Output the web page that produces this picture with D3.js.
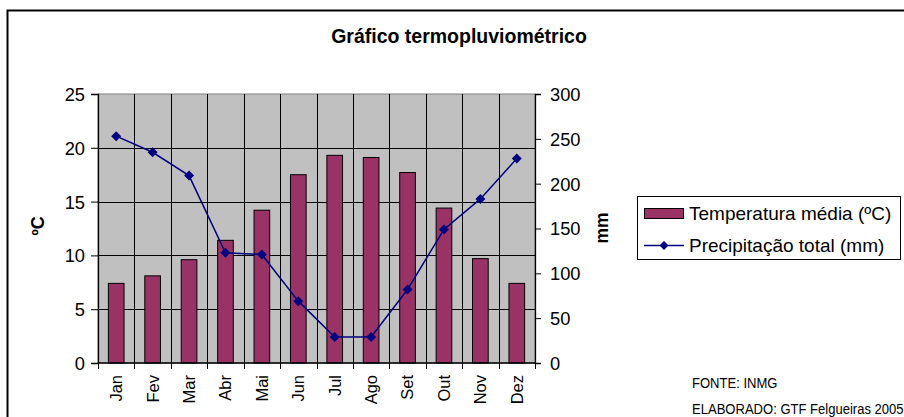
<!DOCTYPE html>
<html>
<head>
<meta charset="utf-8">
<script src="https://cdn.jsdelivr.net/npm/d3@7"></script>
<style>
  html, body { margin: 0; padding: 0; background: #fff; }
  svg { display: block; font-family: "Liberation Sans", Arial, sans-serif; }
</style>
</head>
<body>
<svg id="chart" width="904" height="417"></svg>
<script>
const months = ["Jan","Fev","Mar","Abr","Mai","Jun","Jul","Ago","Set","Out","Nov","Dez"];
const temperatura = [7.4, 8.1, 9.6, 11.4, 14.2, 17.5, 19.3, 19.1, 17.7, 14.4, 9.7, 7.4];
const precipitacao = [253, 235, 209, 123, 121, 69, 29, 29, 82, 149, 183, 228];
const tempTicks = [0, 5, 10, 15, 20, 25];
const precTicks = [0, 50, 100, 150, 200, 250, 300];
const title = "Gráfico termopluviométrico";
const legendLabels = ["Temperatura média (ºC)", "Precipitação total (mm)"];
const notes = ["FONTE: INMG", "ELABORADO: GTF Felgueiras 2005"];

const svg = d3.select("#chart");
const L = 98, R = 535, T = 94, B = 363;

// outer frame
svg.append("rect").attr("x", 7.5).attr("y", 10.5).attr("width", 920).attr("height", 430)
  .attr("fill", "none").attr("stroke", "#000").attr("stroke-width", 2);

svg.append("text").attr("x", 459).attr("y", 43).attr("text-anchor", "middle")
  .attr("font-weight", "bold").attr("font-size", 19.5).text(title);

const x = d3.scaleBand().domain(months).range([L, R]).padding(0);
const yT = d3.scaleLinear().domain([0, 25]).range([B, T]);
const yP = d3.scaleLinear().domain([0, 300]).range([B, T]);

// plot background
svg.append("rect").attr("x", L).attr("y", T).attr("width", R - L).attr("height", B - T)
  .attr("fill", "#c0c0c0").attr("stroke", "#808080");

// horizontal gridlines
svg.append("g").selectAll("line").data(tempTicks.filter(d => d > 0 && d < 25)).join("line")
  .attr("x1", L).attr("x2", R).attr("y1", d => Math.round(yT(d)) + 0.5).attr("y2", d => Math.round(yT(d)) + 0.5)
  .attr("stroke", "#000");
// vertical gridlines at category boundaries
svg.append("g").selectAll("line").data(months.slice(1)).join("line")
  .attr("x1", d => Math.round(x(d)) + 0.5).attr("x2", d => Math.round(x(d)) + 0.5)
  .attr("y1", T).attr("y2", B).attr("stroke", "#000");

// bars
const bw = x.bandwidth() * 0.43;
svg.append("g").selectAll("rect").data(temperatura).join("rect")
  .attr("x", (d, i) => x(months[i]) + (x.bandwidth() - bw) / 2)
  .attr("y", d => yT(d)).attr("width", bw).attr("height", d => B - yT(d))
  .attr("fill", "#993366").attr("stroke", "#000").attr("stroke-width", 1);

// axes
const fontAxis = 18.3;
const yAxisL = d3.axisLeft(yT).tickValues(tempTicks).tickSize(7).tickPadding(6).tickFormat(d3.format("d"));
const gL = svg.append("g").attr("transform", `translate(${L},0)`).call(yAxisL);
const yAxisR = d3.axisRight(yP).tickValues(precTicks).tickSize(6).tickPadding(9).tickFormat(d3.format("d"));
const gR = svg.append("g").attr("transform", `translate(${R},0)`).call(yAxisR);
const xAxis = d3.axisBottom(x).tickSize(0).tickFormat(d => d);
const gB = svg.append("g").attr("transform", `translate(0,${B})`).call(xAxis);
[gL, gR, gB].forEach(g => {
  g.select(".domain").attr("stroke", "#000").attr("stroke-width", 1.3);
  g.selectAll(".tick line").attr("stroke", "#000");
  g.selectAll("text").attr("fill", "#000").attr("font-family", "Liberation Sans, Arial, sans-serif");
});
gL.selectAll("text").attr("font-size", fontAxis).attr("dy", "0.35em");
gR.selectAll("text").attr("font-size", fontAxis).attr("dy", "0.35em");
gB.select(".domain").attr("d", `M${L},0H${R}`);
gB.selectAll(".tick text").attr("font-size", 16.5).attr("text-anchor", "end")
  .attr("transform", "rotate(-90)").attr("x", -12).attr("y", 0).attr("dy", "0.36em");
// x boundary ticks
svg.append("g").selectAll("line").data(months.concat(["end"])).join("line")
  .attr("x1", (d, i) => Math.round(L + i * x.bandwidth()) + 0.5)
  .attr("x2", (d, i) => Math.round(L + i * x.bandwidth()) + 0.5)
  .attr("y1", B).attr("y2", B + 6).attr("stroke", "#000");

// axis titles
svg.append("text").attr("transform", "translate(44,226) rotate(-90)").attr("text-anchor", "middle")
  .attr("font-weight", "bold").attr("font-size", 18).text("ºC");
svg.append("text").attr("transform", "translate(608,228) rotate(-90)").attr("text-anchor", "middle")
  .attr("font-weight", "bold").attr("font-size", 17.5).text("mm");

// precipitation line
const cx = (i) => x(months[i]) + x.bandwidth() / 2;
const line = d3.line().x((d, i) => cx(i)).y(d => yP(d));
svg.append("path").datum(precipitacao).attr("d", line).attr("fill", "none")
  .attr("stroke", "#000080").attr("stroke-width", 1.5);
svg.append("g").selectAll("path").data(precipitacao).join("path")
  .attr("transform", (d, i) => `translate(${cx(i)},${yP(d)}) rotate(45)`)
  .attr("d", d3.symbol().type(d3.symbolSquare).size(50))
  .attr("fill", "#000080");

// legend
const lg = svg.append("g");
lg.append("rect").attr("x", 637.5).attr("y", 196.5).attr("width", 263).attr("height", 63)
  .attr("fill", "#fff").attr("stroke", "#000");
lg.append("rect").attr("x", 644.5).attr("y", 208.5).attr("width", 39).attr("height", 10)
  .attr("fill", "#993366").attr("stroke", "#000");
lg.append("line").attr("x1", 644).attr("x2", 684).attr("y1", 245.5).attr("y2", 245.5)
  .attr("stroke", "#000080").attr("stroke-width", 1.5);
lg.append("path").attr("transform", "translate(664,245.5) rotate(45)")
  .attr("d", d3.symbol().type(d3.symbolSquare).size(40)).attr("fill", "#000080");
lg.selectAll("text.lt").data(legendLabels).join("text").attr("class", "lt")
  .attr("x", 689).attr("y", (d, i) => 219.5 + i * 32).attr("font-size", 19).text(d => d);

// notes
svg.selectAll("text.note").data(notes).join("text").attr("class", "note")
  .attr("transform", (d, i) => `translate(692,${388 + i * 26}) scale(0.87,1)`)
  .attr("font-size", 15).text(d => d);
</script>
</body>
</html>
